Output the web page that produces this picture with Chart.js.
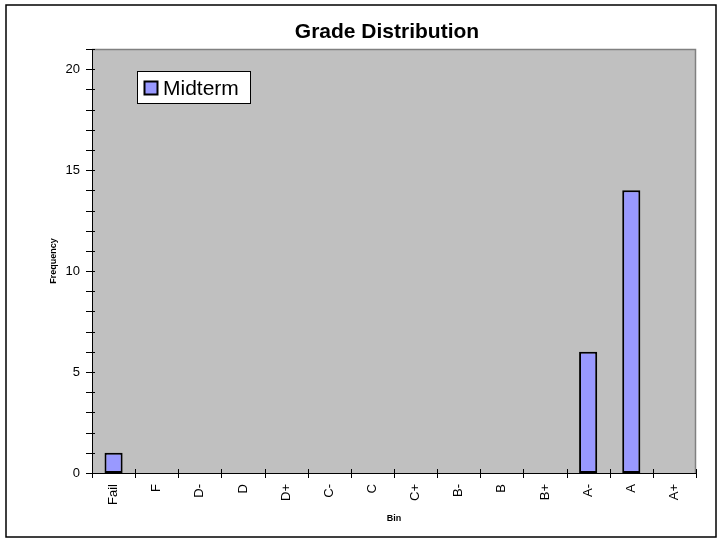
<!DOCTYPE html>
<html>
<head>
<meta charset="utf-8">
<title>Grade Distribution</title>
<script src="https://cdn.jsdelivr.net/npm/chart.js@4/dist/chart.umd.min.js"></script>
<style>
    html, body { margin: 0; padding: 0; background: #fff; }
    #wrap { width: 719px; height: 540px; }
</style>
</head>
<body>
<div id="wrap"><canvas id="gradeChart" width="719" height="540"></canvas></div>
<script>
var chartTitle = 'Grade Distribution';
var bins = ['Fail', 'F', 'D-', 'D', 'D+', 'C-', 'C', 'C+', 'B-', 'B', 'B+', 'A-', 'A', 'A+'];
var midterm = [1, 0, 0, 0, 0, 0, 0, 0, 0, 0, 0, 6, 14, 0];
var yTicks = [0, 5, 10, 15, 20];

(function () {
    'use strict';

    var FONT = "'Liberation Sans', Arial, sans-serif";

    // white page, outer frame, grey plot area, title and legend like the old Excel chart
    var excelFrame = {
        id: 'excelFrame',
        beforeDraw: function (chart) {
            var ctx = chart.ctx, a = chart.chartArea;
            ctx.save();
            ctx.fillStyle = '#fff';
            ctx.fillRect(0, 0, chart.width, chart.height);
            ctx.strokeStyle = '#000';
            ctx.lineWidth = 1.5;
            ctx.strokeRect(6, 5, 710, 532);
            ctx.fillStyle = '#c0c0c0';
            ctx.fillRect(a.left, a.top, a.right - a.left, a.bottom - a.top);
            ctx.strokeStyle = '#808080';
            ctx.lineWidth = 1.5;
            ctx.beginPath();
            ctx.moveTo(a.left, a.top + 0.5);
            ctx.lineTo(a.right - 0.5, a.top + 0.5);
            ctx.lineTo(a.right - 0.5, a.bottom);
            ctx.stroke();

            ctx.fillStyle = '#000';
            ctx.font = 'bold 21px ' + FONT;
            ctx.textAlign = 'center';
            ctx.textBaseline = 'middle';
            ctx.fillText(chartTitle, 387, 32);
            ctx.restore();
        },
        afterDraw: function (chart) {
            var ctx = chart.ctx, a = chart.chartArea;
            var x = chart.scales.x, y = chart.scales.y;
            ctx.save();
            ctx.strokeStyle = '#000';
            ctx.lineWidth = 1;
            ctx.beginPath();
            // y ticks every 1, crossing the axis
            for (var v = y.min; v <= y.max; v++) {
                var py = Math.round(y.getPixelForValue(v)) + 0.5;
                ctx.moveTo(a.left - 6, py);
                ctx.lineTo(a.left + 3, py);
            }
            // x ticks on the category boundaries
            for (var i = 0; i <= bins.length; i++) {
                var px = Math.round(x.getPixelForValue(i - 0.5)) + 0.5;
                ctx.moveTo(px, a.bottom - 4);
                ctx.lineTo(px, a.bottom + 5);
            }
            ctx.stroke();

            // legend box
            var ds = chart.data.datasets[0];
            ctx.fillStyle = '#fff';
            ctx.fillRect(137, 71, 113, 32);
            ctx.strokeRect(137.5, 71.5, 113, 32);
            ctx.fillStyle = ds.backgroundColor;
            ctx.fillRect(144, 81, 14, 14);
            ctx.lineWidth = 2;
            ctx.strokeRect(144.5, 81.5, 13, 13);
            ctx.fillStyle = '#000';
            ctx.font = '21px ' + FONT;
            ctx.textBaseline = 'alphabetic';
            ctx.fillText(ds.label, 163, 95);
            ctx.restore();
        }
    };

    new Chart(document.getElementById('gradeChart'), {
        type: 'bar',
        data: {
            labels: bins,
            datasets: [{
                label: 'Midterm',
                data: midterm,
                backgroundColor: '#9999ff',
                borderColor: '#000',
                borderWidth: 2,
                borderSkipped: false,
                categoryPercentage: 1,
                barPercentage: 0.42
            }]
        },
        options: {
            responsive: false,
            animation: false,
            layout: { padding: { left: 0, right: 23, top: 49, bottom: 0 } },
            plugins: {
                legend: { display: false },
                tooltip: { enabled: false },
                title: { display: false }
            },
            scales: {
                x: {
                    grid: { display: false, drawTicks: false },
                    border: { display: true, color: '#000', width: 1 },
                    ticks: {
                        color: '#000',
                        font: { family: FONT, size: 13 },
                        minRotation: 90,
                        maxRotation: 90,
                        padding: 11,
                        autoSkip: false
                    },
                    title: {
                        display: true,
                        text: 'Bin',
                        color: '#000',
                        font: { family: FONT, size: 9, weight: 'bold' },
                        padding: { top: 0, bottom: 16 }
                    },
                    afterFit: function (scale) { scale.height = 67; }
                },
                y: {
                    min: 0,
                    max: 21,
                    grid: { display: false, drawTicks: false },
                    border: { display: true, color: '#000', width: 1 },
                    ticks: {
                        stepSize: 1,
                        autoSkip: false,
                        color: '#000',
                        font: { family: FONT, size: 13 },
                        padding: 12,
                        callback: function (v) { return yTicks.indexOf(v) >= 0 ? v : ''; }
                    },
                    title: {
                        display: true,
                        text: 'Frequency',
                        color: '#000',
                        font: { family: FONT, size: 9, weight: 'bold' },
                        padding: { top: 48, bottom: 0 }
                    },
                    afterFit: function (scale) { scale.width = 92; }
                }
            }
        },
        plugins: [excelFrame]
    });
}());
</script>
</body>
</html>
